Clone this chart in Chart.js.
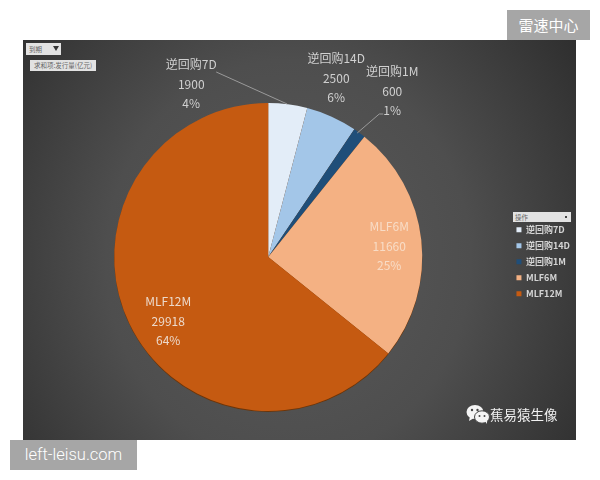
<!DOCTYPE html>
<html lang="zh">
<head>
<meta charset="utf-8">
<title>发行量</title>
<script src="https://cdn.jsdelivr.net/npm/chart.js@4"></script>
<style>
  html, body { margin: 0; padding: 0; background: #fff; }
  body { width: 600px; height: 480px; position: relative; overflow: hidden;
         font-family: "Noto Sans CJK SC", "Noto Sans", sans-serif; }
  #panel { position: absolute; left: 23px; top: 40px; width: 553px; height: 400px;
           background: radial-gradient(ellipse 66% 100% at 48% 55%, #5a5a5a 0%, #4e4e4e 50%, #2c2c2c 100%); }
  canvas { position: absolute; left: 0; top: 0; }
  .tag { position: absolute; background: #a6a6a6; color: #fff; text-align: center; }
  #tagTop { left: 507px; top: 10px; width: 83px; height: 30px; line-height: 30px; font-size: 15px; }
  #tagBottom { left: 10px; top: 440px; width: 127px; height: 30px; line-height: 30px; font-size: 16.5px;
               font-family: Roboto, sans-serif; font-weight: 300; }
  .btn { position: absolute; background: #e2e2e2; color: #666; font-size: 6.5px; white-space: nowrap; }
  #filterBtn { left: 26px; top: 43px; width: 35px; height: 12px; line-height: 12px; padding-left: 3px; box-sizing: border-box; }
  #filterBtn i { position: absolute; right: 2px; top: 3px; width: 0; height: 0;
                 border-left: 3px solid transparent; border-right: 3px solid transparent; border-top: 5px solid #333; }
  #fieldBtn { left: 30px; top: 60px; width: 66px; height: 11px; line-height: 11px; text-align: center; }
  #legendHead { left: 513px; top: 212px; width: 58px; height: 10px; line-height: 10px; padding-left: 2px;
                box-sizing: border-box; }
  #legendHead i { position: absolute; right: 4px; top: 4px; width: 2px; height: 2px; background: #444; }
  #mark { position: absolute; left: 490px; top: 405px; color: #f0f0f0; font-size: 13.5px; line-height: 18px; white-space: nowrap; }
  #wechat { position: absolute; left: 466px; top: 404px; }
</style>
</head>
<body>
<div id="panel"></div>
<canvas id="chart" width="600" height="480"></canvas>
<div class="tag" id="tagTop">雷速中心</div>
<div class="tag" id="tagBottom">left-leisu.com</div>
<div class="btn" id="filterBtn">到期<i></i></div>
<div class="btn" id="fieldBtn">求和项:发行量(亿元)</div>
<div class="btn" id="legendHead">操作<i></i></div>
<svg id="wechat" width="24" height="21" viewBox="0 0 24 21">
  <ellipse cx="9" cy="8" rx="8.5" ry="7" fill="#f4f4f4"/>
  <path d="M4 12 L3 17 L8 14 Z" fill="#f4f4f4"/>
  <ellipse cx="16" cy="13" rx="7.5" ry="6.2" fill="#f4f4f4" stroke="#444" stroke-width="1"/>
  <path d="M19 17 L21 20 L21 15 Z" fill="#f4f4f4"/>
  <circle cx="6" cy="6" r="1.2" fill="#444"/><circle cx="11.5" cy="6" r="1.2" fill="#444"/>
  <circle cx="13.5" cy="12" r="1" fill="#444"/><circle cx="18.5" cy="12" r="1" fill="#444"/>
</svg>
<div id="mark">蕉易猿生像</div>
<script>
const categories = ['逆回购7D', '逆回购14D', '逆回购1M', 'MLF6M', 'MLF12M'];
const issuance = [1900, 2500, 600, 11660, 29918];
const shareLabels = ['4%', '6%', '1%', '25%', '64%'];
const sliceColors = ['#e3edf8', '#a3c6e8', '#1f4e79', '#f4b183', '#c55a11'];

// Label block centres, relative to the pie centre.
const labelOffsets = [[-77, -173], [68, -179], [124, -166], [121, -11], [-100, 64]];
const labelColors = ['#d0d0d0', '#d0d0d0', '#d0d0d0', '#f8dcc6', '#ecd9cb'];
// Leader polylines, relative to the pie centre; only the small outer slices have one.
const leaderLines = [
  [[-52, -185], [19, -153]],
  null,
  [[89, -124], [111, -143], [115, -143]],
  null,
  null
];

const pieLabels = {
  id: 'pieLabels',
  beforeDatasetsDraw(chart) {
    // Thin dark rim under the pie.
    const { ctx } = chart;
    const arc = chart.getDatasetMeta(0).data[0];
    ctx.save();
    ctx.fillStyle = '#6e3508';
    ctx.beginPath();
    ctx.arc(arc.x, arc.y + 1, arc.outerRadius, 0, Math.PI * 2);
    ctx.fill();
    ctx.restore();
  },
  afterDatasetsDraw(chart) {
    const { ctx } = chart;
    const arcs = chart.getDatasetMeta(0).data;
    const cx = arcs[0].x, cy = arcs[0].y;
    ctx.save();
    ctx.strokeStyle = '#9a9a9a';
    ctx.lineWidth = 1;
    leaderLines.forEach(line => {
      if (!line) return;
      ctx.beginPath();
      line.forEach(([dx, dy], i) => i ? ctx.lineTo(cx + dx, cy + dy) : ctx.moveTo(cx + dx, cy + dy));
      ctx.stroke();
    });
    ctx.font = '12px "Noto Sans CJK SC", sans-serif';
    ctx.textAlign = 'center';
    ctx.textBaseline = 'middle';
    categories.forEach((name, i) => {
      const x = cx + labelOffsets[i][0], y = cy + labelOffsets[i][1];
      ctx.fillStyle = labelColors[i];
      ctx.fillText(name, x, y - 19.5);
      ctx.fillText(String(issuance[i]), x, y);
      ctx.fillText(shareLabels[i], x, y + 19.5);
    });
    ctx.restore();
  }
};

new Chart(document.getElementById('chart'), {
  type: 'pie',
  data: {
    labels: categories,
    datasets: [{
      data: issuance,
      backgroundColor: sliceColors,
      borderWidth: 0
    }]
  },
  options: {
    responsive: false,
    animation: false,
    layout: { padding: { left: 27, right: 20, top: 103, bottom: 69 } },
    plugins: {
      tooltip: { enabled: false },
      legend: {
        position: 'right',
        title: { display: true, text: ' ', font: { size: 8 }, padding: 0 },
        labels: {
          color: '#d4d4d4',
          font: { size: 9, weight: 'bold', family: '"Noto Sans CJK SC", sans-serif' },
          usePointStyle: true,
          pointStyle: 'rect',
          boxWidth: 5,
          boxHeight: 5,
          padding: 7
        }
      }
    }
  },
  plugins: [pieLabels]
});
</script>
</body>
</html>
